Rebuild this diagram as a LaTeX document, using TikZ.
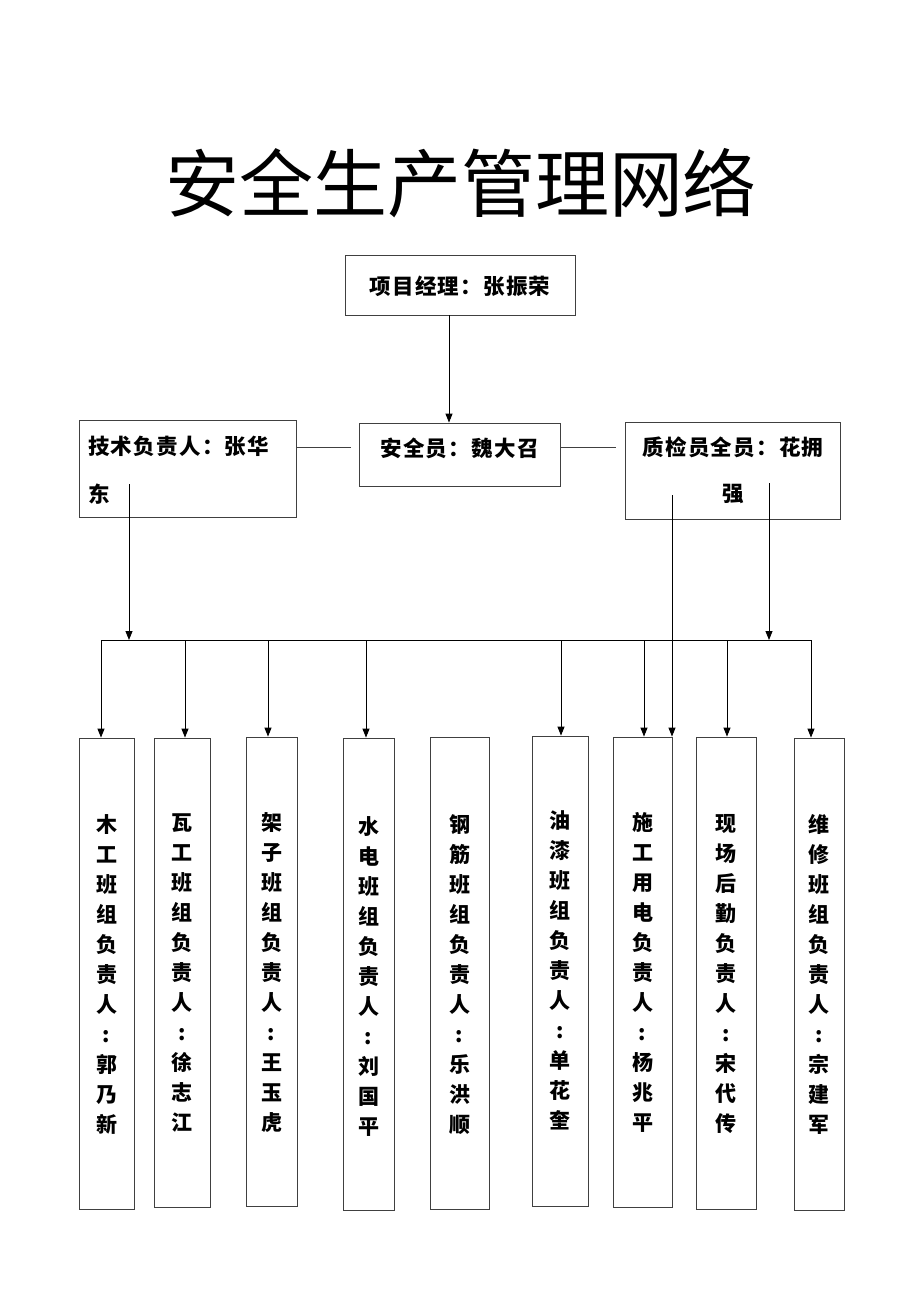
\documentclass[tikz,border=0pt]{standalone}
\usepackage{fontspec}
\setmainfont{Noto Sans CJK SC}
\newfontfamily\spacedcjk[LetterSpace=6]{Noto Sans CJK SC}
\usetikzlibrary{arrows.meta}
\begin{document}
\begin{tikzpicture}[x=1pt,y=-1pt,
  box/.style={draw=black!75,line width=0.8pt,inner sep=0pt},
  arr/.style={-{Triangle[length=9pt,width=7pt]},line width=0.9pt},
  ln/.style={line width=0.9pt},
  lbl/.style={font=\spacedcjk\bfseries\fontsize{21.5}{30}\selectfont,inner sep=0pt},
  vlbl/.style={font=\bfseries\fontsize{21}{30}\selectfont,inner sep=0pt,align=center,anchor=north}]
\useasboundingbox (0,0) rectangle (920,1302);
% title
\node[font=\fontsize{74}{80}\selectfont,inner sep=0pt] (title) at (461,183) {安全生产管理网络};
% top boxes
\node[box,minimum width=230pt,minimum height=60pt] (pm) at (460,285) {};
\node[lbl] (pmt) at (460,286) {项目经理：张振荣};
\node[box,minimum width=201pt,minimum height=63pt] (sa) at (459.5,454.5) {};
\node[lbl] (sat) at (459.5,448) {安全员：魏大召};
\node[box,minimum width=217pt,minimum height=97pt] (tech) at (187.5,468.5) {};
\node[lbl,anchor=west] (tecA) at (88,446) {技术负责人：张华};
\node[lbl,anchor=west] (tecB) at (88,494) {东};
\node[box,minimum width=215pt,minimum height=97pt] (qc) at (732.5,470.5) {};
\node[lbl] (qcA) at (733,447) {质检员全员：花拥};
\node[lbl] (qcB) at (733,494) {强};
% bottom boxes
\foreach \n/\l/\r/\t/\b/\ty/\txt in {
  1/79/134/738/1209/814/{木\\工\\班\\组\\负\\责\\人\\:\\郭\\乃\\新},
  2/154/210/738/1207/814/{瓦\\工\\班\\组\\负\\责\\人\\:\\徐\\志\\江},
  3/246/297/737/1206/812/{架\\子\\班\\组\\负\\责\\人\\:\\王\\玉\\虎},
  4/343/394/738/1210/816/{水\\电\\班\\组\\负\\责\\人\\:\\刘\\国\\平},
  5/430/489/737/1209/814/{钢\\筋\\班\\组\\负\\责\\人\\:\\乐\\洪\\顺},
  6/532/588/736/1206/810/{油\\漆\\班\\组\\负\\责\\人\\:\\单\\花\\奎},
  7/613/672/737/1207/812/{施\\工\\用\\电\\负\\责\\人\\:\\杨\\兆\\平},
  8/696/756/737/1209/814/{现\\场\\后\\勤\\负\\责\\人\\:\\宋\\代\\传},
  9/794/844/738/1210/814/{维\\修\\班\\组\\负\\责\\人\\:\\宗\\建\\军}}{
  \pgfmathsetmacro{\cx}{(\l+\r)/2}
  \pgfmathsetmacro{\cy}{(\t+\b)/2}
  \pgfmathsetmacro{\w}{\r-\l}
  \pgfmathsetmacro{\h}{\b-\t}
  \node[box,minimum width=\w pt,minimum height=\h pt] (b\n) at (\cx,\cy) {};
  \node[vlbl] (t\n) at (\cx,\ty) {\txt};
}
% connectors
\coordinate (l1) at (351,447);
\coordinate (r1) at (616,447);
\draw[ln,black!75] (tech.east |- l1) -- (l1);
\draw[ln,black!75] (sa.east |- r1) -- (r1);
\coordinate (a1) at (449,0);
\draw[arr] (pm.south -| a1) -- (sa.north -| a1);
\coordinate (busL) at (101,640);
\coordinate (busR) at (811,640);
\draw[ln] (busL) -- (busR);
\coordinate (tl) at (129,484);
\draw[arr] (tl) -- (tl |- busL);
\coordinate (qr) at (769,483);
\draw[arr] (qr) -- (qr |- busL);
\coordinate (ql) at (672,495);
\draw[arr] (ql) -- (ql |- b7.north);
\foreach \bb/\x in {b1/101,b2/185,b3/268,b4/366,b6/561,b7/644,b8/727,b9/811}{
  \draw[arr] (\x,640) -- (\bb.north -| \x,0);
}
\end{tikzpicture}
\end{document}
